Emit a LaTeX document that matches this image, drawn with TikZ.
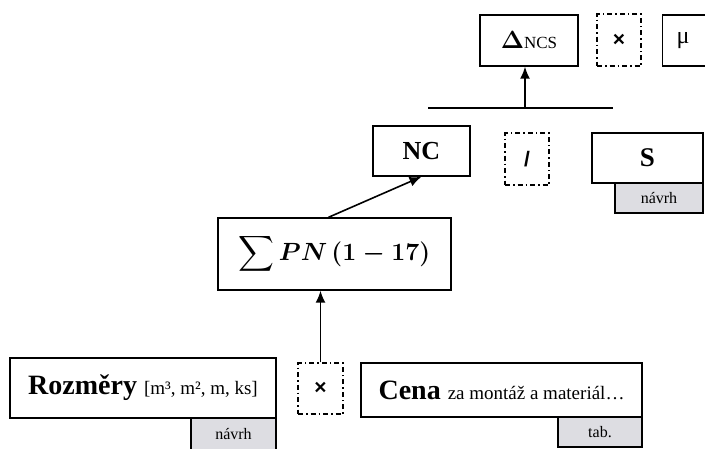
\documentclass[tikz,border=0pt]{standalone}
\usepackage{amsmath}
\usepackage{fontspec}
\setmainfont{Liberation Serif}
\newfontfamily\opfont{Liberation Sans}
\usetikzlibrary{arrows.meta}
\definecolor{tabgray}{RGB}{221,221,226}

\begin{document}
\begin{tikzpicture}[x=1pt, y=-1pt, line width=1.4pt,
	box/.style={draw, fill=white, inner sep=0pt},
	opbox/.style={draw, line width=1.2pt, dash pattern=on 5pt off 3pt on 1.5pt off 3pt, inner sep=0pt, minimum width=44, minimum height=52, font=\opfont\bfseries\fontsize{21}{24}\selectfont},
	tabbox/.style={draw, fill=tabgray, inner sep=0pt, font=\fontsize{16}{18}\selectfont},
	link/.style={line width=1.6pt, -{Latex[length=12pt, width=10pt]}}]
			\useasboundingbox (0,0) rectangle (705,448);
			\node[box, minimum width=98, minimum height=51] (delta) at (529,40.5) {\fontsize{26}{28}\selectfont\textbf{$\boldsymbol{\Delta}$}\fontsize{17}{20}\selectfont NCS};
			\node[opbox] (timesT) at (619,40) {×};
			\node[box, anchor=west, minimum height=51, inner xsep=14pt, text width=32, font=\fontsize{24}{26}\selectfont] (mu) at (662,40.5) {μ};
			\coordinate (hlW) at (428,108);
			\coordinate (hlE) at (613,108);
			\coordinate (base) at (525,108);
			\draw (hlW) -- (hlE);
			\draw[link] (base) -- (delta.south -| base);
			\node[box, minimum width=97, minimum height=50, font=\fontsize{26}{28}\selectfont\bfseries] (nc) at (421.5,151) {NC};
			\node[opbox] (slash) at (527,159) {/};
			\node[tabbox, minimum width=88, minimum height=30] (tabS) at (659,198) {návrh};
			\node[box, minimum width=111, minimum height=50, font=\fontsize{27}{28}\selectfont\bfseries] (s) at (647.5,158) {S};
			\node[box, minimum width=233, minimum height=72] (sum) at (334.5,254) {\fontsize{25}{28}\selectfont$\displaystyle\sum \boldsymbol{PN}\,\boldsymbol{(1-17)}$};
			\draw[link] ([xshift=-6pt]sum.north) -- (nc.south);
			\node[opbox, minimum width=45, minimum height=51] (timesB) at (320.5,388.5) {×};
			\draw[link] (timesB.north) -- (timesB.north |- sum.south);
			\node[tabbox, minimum width=85, minimum height=32] (tabR) at (233.5,434) {návrh};
			\node[box, minimum width=266, minimum height=60] (rozmery) at (143,388) {\fontsize{28}{30}\selectfont\textbf{Rozměry} \fontsize{19}{22}\selectfont[m³, m², m, ks]};
			\node[tabbox, minimum width=84, minimum height=30] (tabC) at (600,432) {tab.};
			\node[box, minimum width=281, minimum height=54] (cena) at (501.5,390) {\fontsize{28}{30}\selectfont\textbf{Cena} \fontsize{19}{22}\selectfont za montáž a materiál…};
			\end{tikzpicture}
\end{document}
